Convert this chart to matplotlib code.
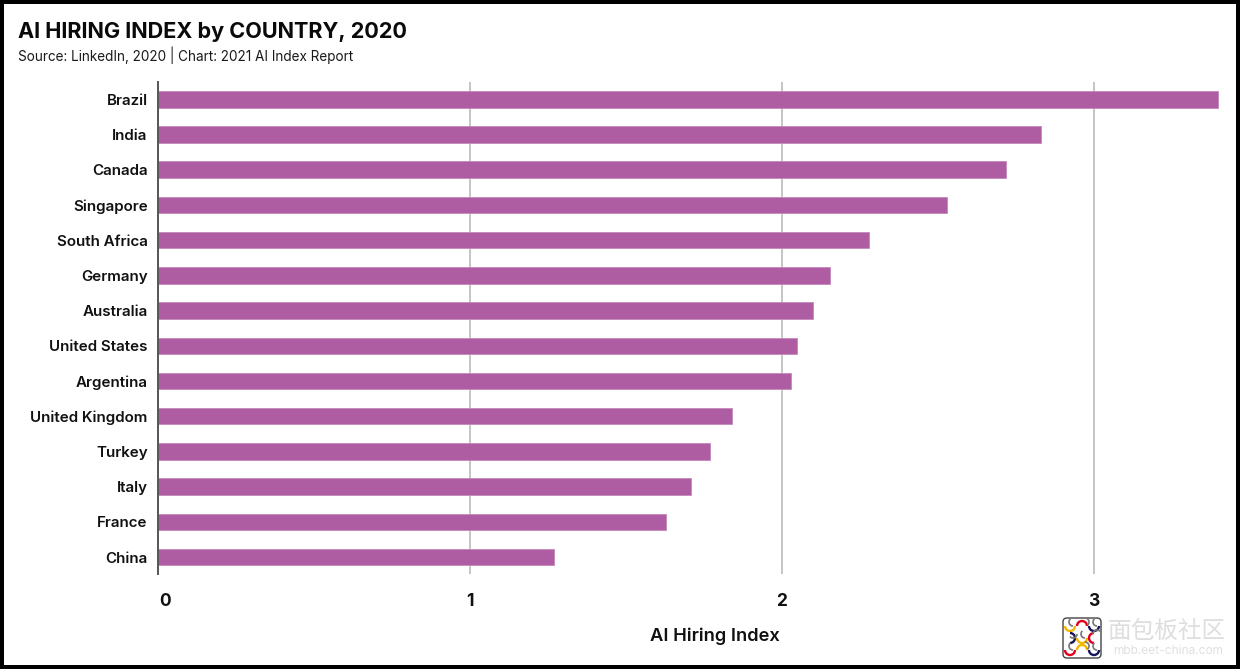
import matplotlib
matplotlib.use("Agg")
import matplotlib.pyplot as plt
from matplotlib.patches import Rectangle, Arc, FancyBboxPatch
from matplotlib.transforms import ScaledTranslation

countries = ["Brazil", "India", "Canada", "Singapore", "South Africa", "Germany", "Australia",
             "United States", "Argentina", "United Kingdom", "Turkey", "Italy", "France", "China"]
values = [3.40, 2.83, 2.72, 2.53, 2.28, 2.155, 2.10, 2.05, 2.03, 1.84, 1.77, 1.71, 1.63, 1.27]
x_ticks = [0, 1, 2, 3]
title = "AI HIRING INDEX by COUNTRY, 2020"
subtitle = "Source: LinkedIn, 2020 | Chart: 2021 AI Index Report"
x_label = "AI Hiring Index"
watermark = "面包板社区"
watermark_url = "mbb.eet-china.com"

W, H = 1240, 669
plt.rcParams['font.family'] = ['Inter', 'DejaVu Sans']
fig = plt.figure(figsize=(W / 100, H / 100), dpi=100, facecolor='white')
ax = fig.add_axes([158 / W, 1 - 574 / H, (1233 - 158) / W, (574 - 82) / H])

positions = list(range(len(countries)))
ax.barh(positions, values, height=0.47, color='#AE5DA3', edgecolor='#C48ABB', linewidth=0.6, zorder=3)
ax.set_xlim(0, (1233 - 158) / 311.9)
ax.set_ylim(13.48, -0.49)

ax.set_yticks(positions)
ax.set_yticklabels(countries, fontsize=10.9, fontweight=600, color='#111111')
ax.set_xticks(x_ticks)
ax.set_xticklabels([str(t) for t in x_ticks], fontsize=12.5, fontweight=700, color='#111111')
ax.tick_params(axis='y', length=0, pad=7.5)
ax.tick_params(axis='x', length=0, pad=14)
lbl0 = ax.get_xticklabels()[0]
lbl0.set_transform(lbl0.get_transform() + ScaledTranslation(7 / 100, 0, fig.dpi_scale_trans))

ax.grid(axis='x', color='#C0C0C0', linewidth=1.3, zorder=0)
ax.set_axisbelow(True)
for s in ['top', 'right', 'bottom']:
    ax.spines[s].set_visible(False)
ax.spines['left'].set_color('#555555')
ax.spines['left'].set_linewidth(1.4)
ax.spines['left'].set_zorder(4)
ax.xaxis.get_gridlines()[0].set_visible(False)

def fx(x): return x / W
def fy(y): return 1 - y / H

fig.text(fx(18), fy(32), title, fontsize=15.6, fontweight=700, color='#0A0A0A', va='center', ha='left')
fig.text(fx(18), fy(55), subtitle, fontsize=9.75, fontweight=400, color='#1A1A1A', va='center', ha='left')
fig.text(fx(715), fy(636), x_label, fontsize=13.2, fontweight=600, color='#111111', va='center', ha='center')

# watermark
overlay = fig.add_axes([0, 0, 1, 1], facecolor='none', zorder=10)
overlay.set_xlim(0, W)
overlay.set_ylim(H, 0)
overlay.axis('off')
overlay.add_patch(FancyBboxPatch((1063, 618), 38, 40, boxstyle="round,pad=0,rounding_size=4",
                                 fc='white', ec='#444444', lw=1))
Y, R, N = '#F5B800', '#E3001B', '#14145A'
arcs = [[(Y, 0), (R, 180), (N, 0)], [(N, 270), (Y, 0), (R, 90)], [(R, 0), (Y, 180), (N, 0)]]
for r, row in enumerate(arcs):
    for c, (col, rot) in enumerate(row):
        cx, cy = 1070 + c * 12, 626 + r * 12
        overlay.add_patch(Arc((cx, cy), 10, 10, theta1=rot, theta2=rot + 180, color=col, lw=1.7))
        overlay.add_patch(Arc((cx + 3, cy - 4), 8, 8, theta1=rot + 90, theta2=rot + 230, color='#777777', lw=1.2))
overlay.text(1167, 631, watermark, fontsize=17, color='#DEDEDE', family=['Noto Sans CJK SC', 'DejaVu Sans'],
             ha='center', va='center')
overlay.text(1168, 651, watermark_url, fontsize=8.6, color='#E0E0E0', ha='center', va='center')

# frame
for (x, y, w, h) in [(0, 0, W, 4), (0, 665, W, 4), (0, 0, 4, H), (1236, 0, 4, H)]:
    overlay.add_patch(Rectangle((x, y), w, h, fc='black', ec='none'))

fig.savefig("out.png", dpi=100, facecolor='white')
